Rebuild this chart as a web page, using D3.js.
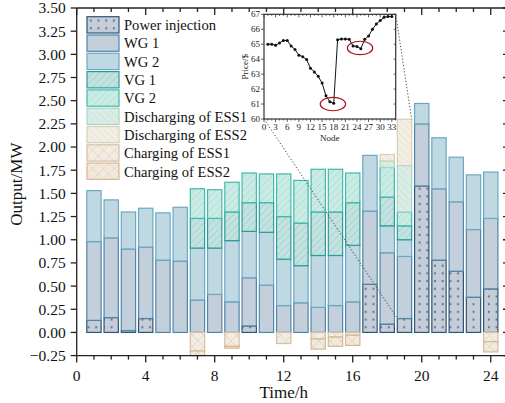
<!DOCTYPE html>
<html><head><meta charset="utf-8">
<script src="https://cdn.jsdelivr.net/npm/d3@7"></script>
<style>
  html,body{margin:0;padding:0;background:#fff;}
  svg{display:block;font-family:"Liberation Serif","Times New Roman",serif;}
</style></head>
<body><svg id="chart" width="505" height="403"></svg>
<script>
// hourly dispatch, stacked per source (MW); charging negative
const HOURS = d3.range(1, 25);
const PI   = [0.13,0.16,0.02,0.15,0,0,0,0,0,0.07,0,0,0,0,0,0,0.52,0.09,0.15,1.58,0.78,0.66,0.38,0.47];
const WG1  = [0.85,0.86,0.88,0.77,0.78,0.77,0.35,0.41,0.33,0.52,0.51,0.29,0.32,0.27,0.29,0.33,0.79,0.77,0.67,0.67,0.77,0.75,0.73,0.76];
const WG2  = [0.55,0.41,0.40,0.42,0.51,0.58,0.56,0.50,0.66,0.50,0.57,0.50,0.40,0.56,0.54,0.61,0.60,0.29,0.18,0.22,0.55,0.48,0.59,0.50];
const VG1  = [0,0,0,0,0,0,0.32,0.32,0.31,0.31,0.32,0.46,0.46,0.47,0.47,0.46,0,0.31,0.15,0,0,0,0,0];
const VG2  = [0,0,0,0,0,0,0.32,0.31,0.32,0.32,0.31,0.46,0.46,0.46,0.46,0.32,0,0.32,0.15,0,0,0,0,0];
const DES1 = [0,0,0,0,0,0,0,0,0,0,0,0,0,0,0,0,0,0.07,0.50,0,0,0,0,0];
const DES2 = [0,0,0,0,0,0,0,0,0,0,0,0,0,0,0,0,0,0.07,0.50,0,0,0,0,0];
const CES1 = [0,0,0,0,0,0,-0.20,0,-0.15,0,0,-0.12,0,-0.07,-0.05,-0.03,0,0,0,0,0,0,0,-0.10];
const CES2 = [0,0,0,0,0,0,-0.05,0,-0.02,0,0,0,0,-0.11,-0.10,-0.11,0,0,0,0,0,0,0,-0.11];
const Y_TICKS = d3.range(-0.25, 3.51, 0.25);
const X_TICKS = [0,4,8,12,16,20,24];

// inset: nodal price
const NODES = d3.range(1, 34);
const PRICE = [65.0,65.0,64.93,65.08,65.25,65.25,64.88,64.65,64.27,64.17,63.97,63.4,63.15,62.85,62.4,61.55,61.15,61.05,
               65.3,65.35,65.35,65.33,64.88,64.85,64.7,65.33,65.55,66.0,66.35,66.58,66.8,66.85,66.85];
const NODE_TICKS = d3.range(0, 34, 3);
const PRICE_TICKS = d3.range(60, 68);

(function () {
  const SERIES = [
    {key:"pi",   label:"Power injection",       vals:PI,   fill:"url(#p-dots)", stroke:"#2f5475"},
    {key:"wg1",  label:"WG 1",                  vals:WG1,  fill:"#c3cfda", stroke:"#4f86a8"},
    {key:"wg2",  label:"WG 2",                  vals:WG2,  fill:"#bfd8e2", stroke:"#6aa9c4"},
    {key:"vg1",  label:"VG 1",                  vals:VG1,  fill:"url(#p-vg1)", stroke:"#2a9c9a"},
    {key:"vg2",  label:"VG 2",                  vals:VG2,  fill:"url(#p-vg2)", stroke:"#40bba9"},
    {key:"des1", label:"Discharging of ESS1",   vals:DES1, fill:"url(#p-des1)", stroke:"#a9d4c6"},
    {key:"des2", label:"Discharging of ESS2",   vals:DES2, fill:"url(#p-des2)", stroke:"#d8cfb4"},
    {key:"ces1", label:"Charging of ESS1",      vals:CES1, fill:"url(#p-ces1)", stroke:"#d6bfa4"},
    {key:"ces2", label:"Charging of ESS2",      vals:CES2, fill:"url(#p-ces2)", stroke:"#d5b997"},
  ];

  const svg = d3.select("#chart");
  const x = d3.scaleLinear([0, 25], [76.7, 508]);
  const y = d3.scaleLinear([-0.25, 3.5], [355.6, 8]);
  const bw = 0.83 * (x(1) - x(0));

  // patterns
  const defs = svg.append("defs");
  const dots = defs.append("pattern").attr("id", "p-dots").attr("patternUnits", "userSpaceOnUse")
    .attr("width", 7.7).attr("height", 7.7);
  dots.append("rect").attr("width", 7.7).attr("height", 7.7).attr("fill", "#c4cdd8");
  dots.append("circle").attr("cx", 3.8).attr("cy", 3.8).attr("r", 1.15).attr("fill", "#6a7a8e");

  function hatch(id, bg, ink, angles, step) {
    const p = defs.append("pattern").attr("id", id).attr("patternUnits", "userSpaceOnUse")
      .attr("width", step).attr("height", step);
    p.append("rect").attr("width", step).attr("height", step).attr("fill", bg);
    angles.forEach((a) => {
      // "/" goes bottom-left to top-right, "\" the other way
      const pts = a === "/" ? [[0, step], [step, 0]] : [[0, 0], [step, step]];
      const c = a === "/" ? [[0, 0], [-1, 1], [1, -1]] : [[0, 0], [-1, -1], [1, 1]];
      c.forEach(([dx, dy]) => p.append("line")
        .attr("x1", pts[0][0] + dx * step).attr("y1", pts[0][1] + dy * step)
        .attr("x2", pts[1][0] + dx * step).attr("y2", pts[1][1] + dy * step)
        .attr("stroke", ink).attr("stroke-width", 0.5));
    });
  }
  hatch("p-vg1", "#c3e1df", "#7cc2bd", ["/"], 7);
  hatch("p-vg2", "#caebe4", "#90d3c8", ["/"], 7);
  hatch("p-des1", "#d9ede6", "#b4d9cc", ["\\"], 7);
  hatch("p-des2", "#f1eee4", "#dcd3be", ["\\"], 7);
  hatch("p-ces1", "#f3ece3", "#d9c5ae", ["/", "\\"], 11);
  hatch("p-ces2", "#f2e9dd", "#d8bfa3", ["/", "\\"], 11);

  // stacked bars
  const table = HOURS.map((h, i) => {
    const row = {hour: h};
    SERIES.forEach((s) => row[s.key] = s.vals[i]);
    return row;
  });
  const stack = d3.stack().keys(SERIES.map((s) => s.key)).offset(d3.stackOffsetDiverging)(table);
  const gBars = svg.append("g");
  stack.forEach((layer, li) => {
    const s = SERIES[li];
    gBars.append("g").selectAll("rect").data(layer.filter((d) => d[1] !== d[0])).join("rect")
      .attr("x", (d) => x(d.data.hour) - bw / 2)
      .attr("y", (d) => y(Math.max(d[0], d[1])))
      .attr("width", bw)
      .attr("height", (d) => Math.abs(y(d[0]) - y(d[1])))
      .attr("fill", s.fill).attr("stroke", s.stroke).attr("stroke-width", 1.2);
  });

  // axes + frame
  const gAx = svg.append("g").attr("fill", "none").attr("stroke", "#222").attr("stroke-width", 1.3);
  gAx.append("line").attr("x1", x(0)).attr("x2", x(0)).attr("y1", y(3.5)).attr("y2", y(-0.25));
  gAx.append("line").attr("x1", x(0)).attr("x2", x(25)).attr("y1", y(-0.25)).attr("y2", y(-0.25));
  gAx.append("line").attr("x1", x(0)).attr("x2", x(25)).attr("y1", y(3.5)).attr("y2", y(3.5));
  gAx.append("line").attr("x1", x(25)).attr("x2", x(25)).attr("y1", y(3.5)).attr("y2", y(-0.25));

  gAx.selectAll(".yt").data(Y_TICKS).join("line")
    .attr("x1", x(0) - 6).attr("x2", x(0)).attr("y1", (d) => y(d)).attr("y2", (d) => y(d));
  gAx.selectAll(".yr").data(Y_TICKS).join("line")
    .attr("x1", x(25) - 5).attr("x2", x(25)).attr("y1", (d) => y(d)).attr("y2", (d) => y(d));
  const hrs = d3.range(0, 25);
  gAx.selectAll(".xb").data(hrs).join("line")
    .attr("x1", (d) => x(d)).attr("x2", (d) => x(d))
    .attr("y1", y(-0.25)).attr("y2", (d) => y(-0.25) + (d % 4 ? 4 : 7));
  gAx.selectAll(".xt").data(hrs).join("line")
    .attr("x1", (d) => x(d)).attr("x2", (d) => x(d))
    .attr("y1", y(3.5)).attr("y2", (d) => y(3.5) + (d % 4 ? 4 : 7));

  svg.append("g").selectAll("text").data(Y_TICKS).join("text")
    .attr("x", x(0) - 11).attr("y", (d) => y(d)).attr("dy", "0.35em")
    .attr("text-anchor", "end").attr("font-size", 15.5).attr("fill", "#111")
    .text((d) => d3.format(".2f")(d));
  svg.append("g").selectAll("text").data(X_TICKS).join("text")
    .attr("x", (d) => x(d)).attr("y", 381)
    .attr("text-anchor", "middle").attr("font-size", 15.5).attr("fill", "#111")
    .text((d) => d);
  svg.append("text").attr("x", x(12)).attr("y", 398).attr("text-anchor", "middle")
    .attr("font-size", 17).attr("fill", "#111").text("Time/h");
  svg.append("text").attr("transform", `translate(22,${y(1.6)}) rotate(-90)`)
    .attr("text-anchor", "middle").attr("font-size", 17).attr("fill", "#111").text("Output/MW");

  // legend
  const lg = svg.append("g").selectAll("g").data(SERIES).join("g")
    .attr("transform", (d, i) => `translate(87,${16.7 + i * 18.3})`);
  lg.append("rect").attr("width", 32).attr("height", 16.3)
    .attr("fill", (d) => d.fill).attr("stroke", (d) => d.stroke).attr("stroke-width", 1.2);
  lg.append("text").attr("x", 37).attr("y", 8.3).attr("dy", "0.35em")
    .attr("font-size", 14.6).attr("fill", "#111").text((d) => d.label);

  // inset
  const ix = d3.scaleLinear([0, 34], [264, 395.7]);
  const iy = d3.scaleLinear([60, 67], [119, 14.3]);
  const gi = svg.append("g");
  gi.append("rect").attr("x", ix(0)).attr("y", iy(67)).attr("width", ix(34) - ix(0))
    .attr("height", iy(60) - iy(67)).attr("fill", "#fff").attr("stroke", "#333").attr("stroke-width", 1.2);
  const it = gi.append("g").attr("stroke", "#333").attr("stroke-width", 0.8);
  it.selectAll(".l").data(PRICE_TICKS).join("line")
    .attr("x1", ix(0) - 3).attr("x2", ix(0)).attr("y1", (d) => iy(d)).attr("y2", (d) => iy(d));
  it.selectAll(".r").data(PRICE_TICKS).join("line")
    .attr("x1", ix(34) - 2).attr("x2", ix(34)).attr("y1", (d) => iy(d)).attr("y2", (d) => iy(d));
  const nAll = d3.range(0, 35);
  it.selectAll(".b").data(nAll).join("line")
    .attr("x1", (d) => ix(d)).attr("x2", (d) => ix(d))
    .attr("y1", iy(60)).attr("y2", (d) => iy(60) + (d % 3 ? 1.5 : 3));
  it.selectAll(".t").data(nAll).join("line")
    .attr("x1", (d) => ix(d)).attr("x2", (d) => ix(d))
    .attr("y1", iy(67)).attr("y2", (d) => iy(67) + (d % 3 ? 1.5 : 3));
  gi.append("g").selectAll("text").data(PRICE_TICKS).join("text")
    .attr("x", ix(0) - 4).attr("y", (d) => iy(d)).attr("dy", "0.35em")
    .attr("text-anchor", "end").attr("font-size", 9).attr("fill", "#222").text((d) => d);
  gi.append("g").selectAll("text").data(NODE_TICKS).join("text")
    .attr("x", (d) => ix(d)).attr("y", 130).attr("text-anchor", "middle")
    .attr("font-size", 9).attr("fill", "#222").text((d) => d);
  gi.append("text").attr("x", ix(17)).attr("y", 141).attr("text-anchor", "middle")
    .attr("font-size", 9).attr("fill", "#222").text("Node");
  gi.append("text").attr("transform", `translate(248,${iy(63.5)}) rotate(-90)`)
    .attr("text-anchor", "middle").attr("font-size", 9).attr("fill", "#222").text("Price/$");
  const line = d3.line().x((d, i) => ix(NODES[i])).y((d) => iy(d));
  gi.append("path").attr("d", line(PRICE)).attr("fill", "none").attr("stroke", "#111").attr("stroke-width", 1);
  gi.append("g").selectAll("circle").data(PRICE).join("circle")
    .attr("cx", (d, i) => ix(NODES[i])).attr("cy", (d) => iy(d)).attr("r", 1.5).attr("fill", "#111");
  // highlight rings
  [[17.8, 61.0], [24.8, 64.75]].forEach(([n, p]) => gi.append("ellipse")
    .attr("cx", ix(n)).attr("cy", iy(p)).attr("rx", 12.7).attr("ry", 6.7)
    .attr("fill", "none").attr("stroke", "#a8141a").attr("stroke-width", 1.2));

  // zoom guides from inset to hour 19
  const h19 = 18;
  const top19 = stack[6][h19][1], pi19 = stack[0][h19][1];
  const guide = svg.append("g").attr("stroke", "#444").attr("stroke-width", 1).attr("stroke-dasharray", "1.2,2");
  guide.append("line").attr("x1", ix(0)).attr("y1", iy(60))
    .attr("x2", x(19) - bw / 2).attr("y2", y(pi19));
  guide.append("line").attr("x1", ix(34)).attr("y1", iy(67))
    .attr("x2", x(19) + bw / 2).attr("y2", y(top19));
})();
</script></body></html>
